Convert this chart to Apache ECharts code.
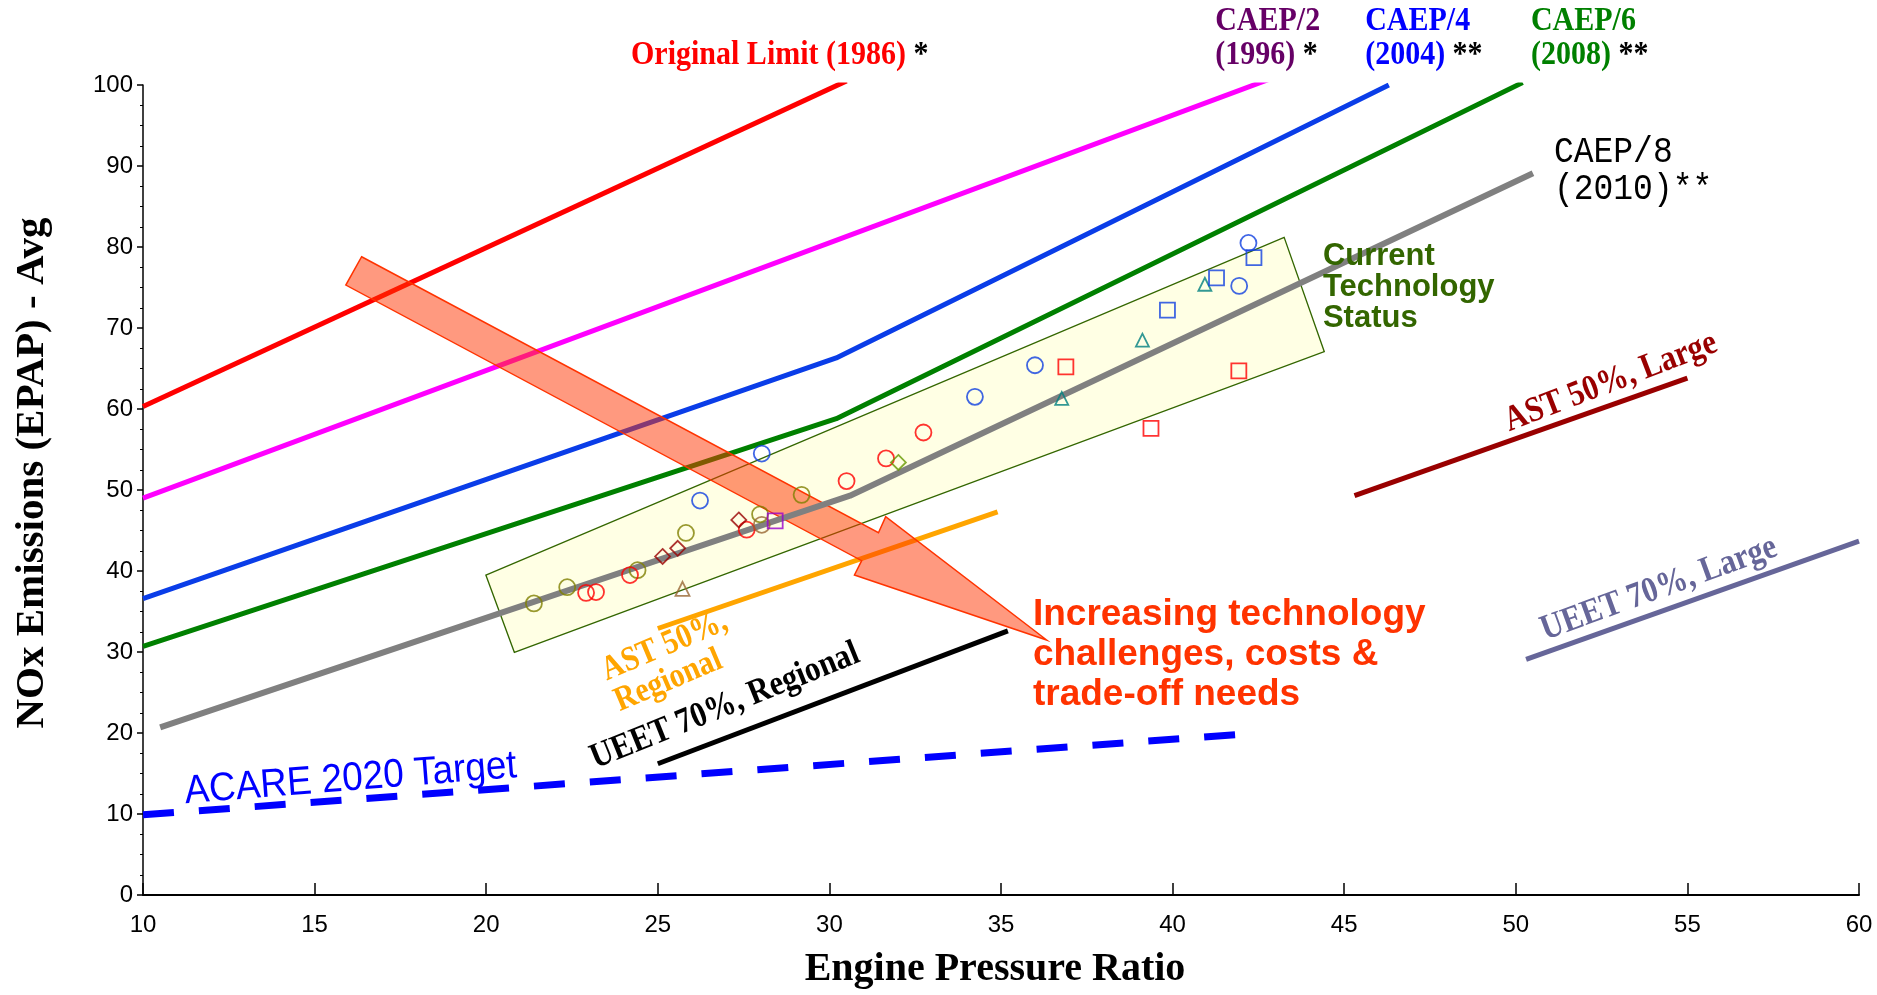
<!DOCTYPE html>
<html><head><meta charset="utf-8">
<script src="https://cdn.jsdelivr.net/npm/echarts@6/dist/echarts.min.js"></script>
<style>html,body{margin:0;padding:0;background:#fff}#c{width:1877px;height:995px}</style>
</head><body><div id="c"></div>
<script>
// ---- line data (Engine Pressure Ratio, NOx) ----
const originalLimit = [[10,60.3],[30.5,100.5]];
const caep2 = [[10,49],[43,101]];
const caep4 = [[10,36.6],[30.2,66.3],[46.3,100]];
const caep6 = [[10,30.7],[30.2,58.8],[50.2,100.3]];
const caep8 = [[10.5,20.7],[30.6,49.3],[50.5,89.1]];
const astRegional = [[25,32.9],[34.9,47.3]];
const ueetRegional = [[25,16.2],[35.2,32.6]];
const astLarge = [[45.3,49.3],[55,63.8]];
const ueetLarge = [[50.3,29.1],[60,43.7]];
const acareTarget = [[10,9.9],[41.85,19.8]];

// ---- engine data points ----
const oliveCircles = [[21.39,36.0],[22.36,38.0],[24.41,40.1],[25.82,44.7],[27.98,47.0],[29.19,49.4]];
const redCircles = [[22.91,37.3],[23.2,37.4],[24.19,39.5],[27.59,45.1],[30.5,51.1],[31.65,53.9],[32.74,57.1]];
const darkRedDiamonds = [[25.14,41.8],[25.58,42.8],[27.36,46.3]];
const brownTriangles = [[25.72,37.8]];
const brownCircles = [[28.03,45.7]];
const blueCircles = [[26.23,48.7],[28.03,54.5],[34.24,61.5],[35.99,65.4],[41.94,75.2],[42.21,80.5]];
const purpleSquares = [[28.42,46.2]];
const greenDiamonds = [[32.01,53.4]];
const redSquares = [[36.89,65.2],[39.37,57.6],[41.93,64.7]];
const tealTriangles = [[36.77,61.3],[39.12,68.5],[40.94,75.4]];
const blueSquares = [[39.85,72.2],[41.28,76.2],[42.37,78.7]];

// ---- annotation shapes (data coordinates) ----
const techBox = [[19.99,39.5],[43.25,81.2],[44.42,67.07],[20.82,29.96]];
const trendArrow = [[16.37,78.8],[31.43,44.73],[31.64,46.70],[36.33,31.48],[30.73,39.51],[30.94,41.27],[15.91,75.3]];

// ---- axis ticks ----
const xMin = 10, xMax = 60, xStep = 5;
const yMin = 0, yMax = 100, yStep = 10;

const SERIF = '"Liberation Serif","Times New Roman",serif';
const SANS = '"Liberation Sans",Arial,sans-serif';
const MONO = '"Liberation Mono","Courier New",monospace';

function rs(color, size, fam, weight){ return {fill: color, fontSize: size, fontFamily: fam, fontWeight: weight}; }

const labels = [
  {x:24.22, y:103.7, sy:1.15, text:'{a|Original Limit (1986)}{k| *}', rich:{a:rs('#ff0000',30,SERIF,'bold'), k:rs('#000',30,SERIF,'bold')}, align:'left'},
  {x:41.24, y:105.8, sy:1.15, text:'{a|CAEP/2}\n{a|(1996)}{k| *}', rich:{a:rs('#660066',30,SERIF,'bold'), k:rs('#000',30,SERIF,'bold')}, align:'left', lh:30},
  {x:45.61, y:105.8, sy:1.15, text:'{a|CAEP/4}\n{a|(2004)}{k| **}', rich:{a:rs('#0000ff',30,SERIF,'bold'), k:rs('#000',30,SERIF,'bold')}, align:'left', lh:30},
  {x:50.44, y:105.8, sy:1.15, text:'{a|CAEP/6}\n{a|(2008)}{k| **}', rich:{a:rs('#008000',30,SERIF,'bold'), k:rs('#000',30,SERIF,'bold')}, align:'left', lh:30},
  {x:51.11, y:89.4, sy:1.1, text:'{a|CAEP/8}\n{a|(2010)**}', rich:{a:rs('#000',33,MONO,'normal')}, align:'left', lh:33},
  {x:44.38, y:75.06, text:'{a|Current}\n{a|Technology}\n{a|Status}', rich:{a:rs('#336600',31,SANS,'bold')}, align:'left', lh:31},
  {x:35.93, y:29.6, text:'{a|Increasing technology}\n{a|challenges, costs &}\n{a|trade-off needs}', rich:{a:rs('#ff3300',37,SANS,'bold')}, align:'left', lh:40},
  {x:16.05, y:14.3, rot:4.5, sy:1.08, text:'{a|ACARE 2020 Target}', rich:{a:rs('#0000ff',37,SANS,'normal')}, align:'center'},
  {x:23.6, y:25.6, rot:23, sy:1.15, text:'{a|AST 50%,}\n{a|Regional}', rich:{a:rs('#ffa500',30,SERIF,'bold')}, align:'left', lh:29},
  {x:26.96, y:23.3, rot:22, sy:1.15, text:'{a|UEET 70%, Regional}', rich:{a:rs('#000',31,SERIF,'bold')}, align:'center'},
  {x:52.77, y:63.3, rot:21, sy:1.15, text:'{a|AST 50%, Large}', rich:{a:rs('#990000',31,SERIF,'bold')}, align:'center'},
  {x:54.17, y:37.8, rot:20, sy:1.15, text:'{a|UEET 70%, Large}', rich:{a:rs('#666699',31,SERIF,'bold')}, align:'center'}
];

function lineSeries(data, color, width, z, dashed){
  return {type:'line', data, showSymbol:false, symbol:'none', z, silent:true,
    lineStyle:{color, width, type: dashed ? [31,25] : 'solid', cap:'butt'}};
}
function pts(data, symbol, color, size){
  return {type:'scatter', data, symbol, symbolSize:size, z:6, silent:true,
    itemStyle:{color:'rgba(255,255,255,0)', borderColor:color, borderWidth:1.8}};
}
function polySeries(shape, style, z){
  return {type:'custom', z, silent:true, clip:false, data:[shape[0]],
    renderItem:(params, api)=>({type:'polygon', shape:{points: shape.map(p=>api.coord(p))}, style})};
}

const chart = echarts.init(document.getElementById('c'), null, {renderer:'canvas'});
chart.setOption({
  animation:false,
  backgroundColor:'#fff',
  grid:{left:143, right:18, top:85, bottom:100, containLabel:false},
  xAxis:{type:'value', min:xMin, max:xMax, interval:xStep,
    name:'Engine Pressure Ratio', nameLocation:'middle', nameGap:55,
    nameTextStyle:{fontFamily:SERIF, fontWeight:'bold', fontSize:40, color:'#000', padding:[0,12,0,0]},
    axisLine:{show:true, onZero:false, lineStyle:{color:'#000', width:2}},
    axisTick:{show:true, inside:true, length:12, lineStyle:{color:'#000', width:1.5}},
    axisLabel:{fontFamily:SANS, fontSize:24, color:'#000', margin:18},
    splitLine:{show:false}},
  yAxis:{type:'value', min:yMin, max:yMax, interval:yStep,
    name:'NOx Emissions (EPAP) - Avg', nameLocation:'middle', nameGap:90,
    nameTextStyle:{fontFamily:SERIF, fontWeight:'bold', fontSize:41, color:'#000', padding:[0,0,0,34]},
    axisLine:{show:true, onZero:false, lineStyle:{color:'#000', width:1.5}},
    axisTick:{show:true, inside:false, length:6, lineStyle:{color:'#000', width:1.5}},
    minorTick:{show:true, splitNumber:4, length:3, lineStyle:{color:'#000', width:1}},
    axisLabel:{fontFamily:SANS, fontSize:24, color:'#000', margin:10},
    splitLine:{show:false}},
  series:[
    polySeries(techBox, {fill:'#ffffe4', stroke:'#336600', lineWidth:1.3}, 1),
    lineSeries(originalLimit, '#ff0000', 5, 2),
    lineSeries(caep2, '#ff00ff', 5, 2),
    lineSeries(caep4, '#0a3de8', 5, 2),
    lineSeries(caep6, '#008000', 5, 2),
    lineSeries(astRegional, '#ffa500', 5, 2),
    lineSeries(ueetRegional, '#000000', 5, 2),
    lineSeries(astLarge, '#990000', 5, 2),
    lineSeries(ueetLarge, '#666699', 5, 2),
    lineSeries(acareTarget, '#0000ff', 7, 2, true),
    polySeries(trendArrow, {fill:'rgba(255,51,0,0.5)', stroke:'#ff3300', lineWidth:1.5}, 3),
    lineSeries(caep8, '#808080', 6, 4),
    pts(oliveCircles, 'circle', '#808000', 16),
    pts(redCircles, 'circle', '#ff0000', 16),
    pts(brownCircles, 'circle', '#996633', 16),
    pts(blueCircles, 'circle', '#1040e0', 16),
    pts(darkRedDiamonds, 'diamond', '#990000', 15),
    pts(greenDiamonds, 'diamond', '#669900', 15),
    pts(brownTriangles, 'triangle', '#996633', [14,14]),
    pts(tealTriangles, 'triangle', '#008080', [13,13]),
    pts(purpleSquares, 'rect', '#9900cc', 15),
    pts(redSquares, 'rect', '#ff0000', 15),
    pts(blueSquares, 'rect', '#1040e0', 15),
    {type:'custom', z:7, silent:true, clip:false, data: labels.map(l=>[l.x,l.y]),
      renderItem:(params, api)=>{
        const L = labels[params.dataIndex];
        const p = api.coord([L.x, L.y]);
        return {type:'text', x:p[0], y:p[1], rotation:(L.rot||0)*Math.PI/180, scaleY:L.sy||1,
          style:{text:L.text, rich:L.rich, align:L.align, verticalAlign:'middle',
            lineHeight:L.lh||36, fontSize:30, fontFamily:SERIF}};
      }}
  ]
});
</script></body></html>
